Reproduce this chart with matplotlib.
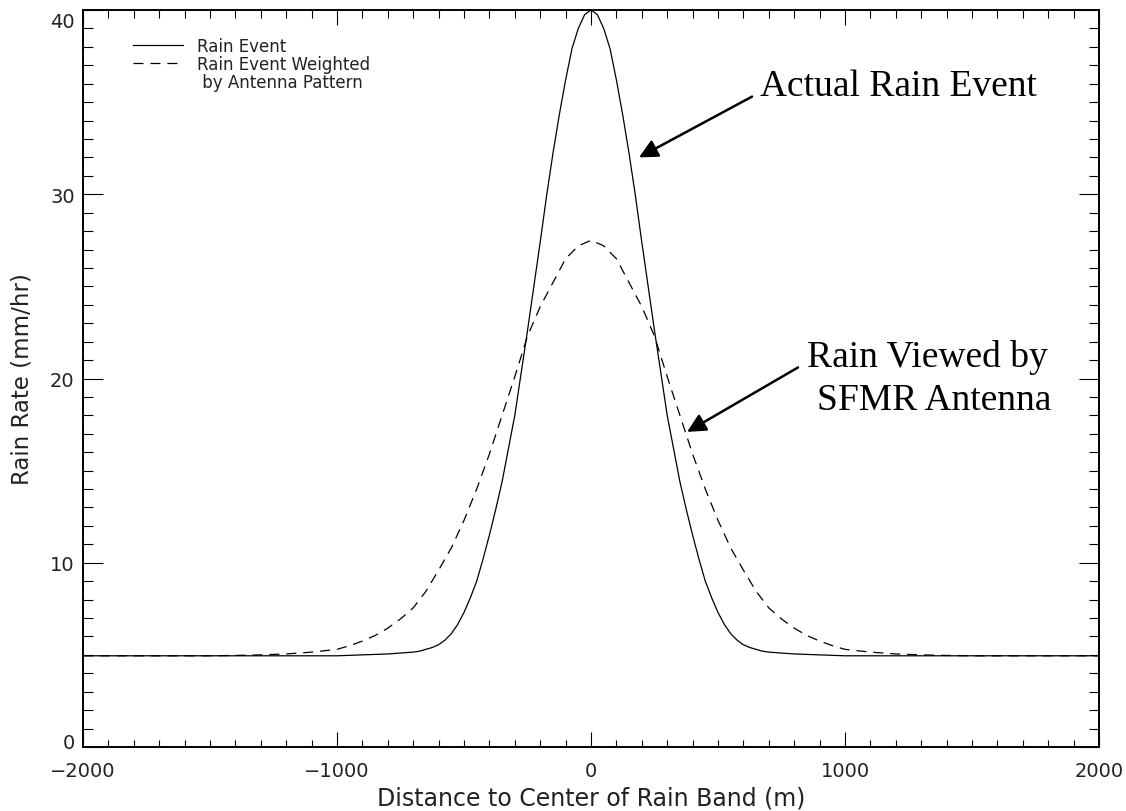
import matplotlib
matplotlib.use("Agg")
import matplotlib.pyplot as plt
import matplotlib.transforms as mtransforms
from matplotlib.lines import Line2D
from matplotlib.ticker import MultipleLocator

# Rain event profile (solid)
rain_x = [-2000, -1500, -1000, -900, -800, -750, -700, -675, -650, -625, -600,
          -575, -550, -525, -500, -475, -450, -425, -400, -375, -350, -325,
          -300, -275, -250, -225, -200, -175, -150, -125, -100, -75, -50, -25,
          0, 25, 50, 75, 100, 125, 150, 175, 200, 225, 250, 275, 300, 325,
          350, 375, 400, 425, 450, 475, 500, 525, 550, 575, 600, 625, 650,
          675, 700, 750, 800, 900, 1000, 1500, 2000]
rain_y = [4.95, 4.95, 4.95, 5.0, 5.05, 5.1, 5.15, 5.2, 5.3, 5.4, 5.55,
          5.8, 6.15, 6.65, 7.3, 8.1, 9.0, 10.2, 11.5, 12.9, 14.4, 16.2,
          18.0, 20.3, 22.6, 25.0, 27.4, 29.9, 32.2, 34.3, 36.2, 37.9, 39.0, 39.75,
          40.0, 39.75, 39.0, 37.9, 36.2, 34.3, 32.2, 29.9, 27.4, 25.0, 22.6, 20.3, 18.0, 16.2,
          14.4, 12.9, 11.5, 10.2, 9.0, 8.1, 7.3, 6.65, 6.15, 5.8, 5.55, 5.4, 5.3,
          5.2, 5.15, 5.1, 5.05, 5.0, 4.95, 4.95, 4.95]

# Rain event weighted by antenna pattern (dashed)
wtd_x = [-2000, -1500, -1400, -1300, -1200, -1100, -1000, -950, -900, -850,
         -800, -750, -700, -650, -600, -550, -500, -450, -400, -350, -300,
         -250, -200, -150, -100, -50, 0, 50, 100, 150, 200, 250, 300, 350,
         400, 450, 500, 550, 600, 650, 700, 750, 800, 850, 900, 950, 1000,
         1100, 1200, 1300, 1400, 1500, 2000]
wtd_y = [4.95, 4.95, 4.97, 5.0, 5.05, 5.15, 5.3, 5.5, 5.75, 6.05,
         6.45, 6.95, 7.55, 8.45, 9.6, 10.8, 12.3, 14.0, 15.9, 18.0, 20.1,
         22.3, 23.9, 25.2, 26.5, 27.2, 27.5, 27.2, 26.5, 25.2, 23.9, 22.3, 20.1, 18.0,
         15.9, 14.0, 12.3, 10.8, 9.6, 8.45, 7.55, 6.95, 6.45, 6.05, 5.75, 5.5, 5.3,
         5.15, 5.05, 5.0, 4.97, 4.95, 4.95]

x_ticks = [-2000, -1000, 0, 1000, 2000]
y_ticks = [0, 10, 20, 30, 40]

plt.rcParams['font.family'] = ['DejaVu Sans']
plt.rcParams['lines.scale_dashes'] = False

fig = plt.figure(figsize=(11.26, 8.12), dpi=100)
ax = fig.add_axes([83 / 1126, 64 / 812, 1016 / 1126, 737 / 812])

dash = (0, (7.2, 5.0))
ax.plot(rain_x, rain_y, color="black", linewidth=0.9)
ax.plot(wtd_x, wtd_y, color="black", linewidth=0.9, linestyle=dash)

ax.set_xlim(-2000, 2000)
ax.set_ylim(0, 40)
ax.set_xticks(x_ticks)
ax.set_yticks(y_ticks)
ax.set_xticklabels([str(v).replace("-", "\u2212") for v in x_ticks])
ax.xaxis.set_minor_locator(MultipleLocator(100))
ax.yaxis.set_minor_locator(MultipleLocator(1))

for sp in ax.spines.values():
    sp.set_linewidth(1.4)

ax.tick_params(axis="x", which="both", direction="in", top=True, bottom=True,
               width=0.8, labelsize=14, pad=10, labelcolor="#222222")
ax.tick_params(axis="x", which="major", length=10.8)
ax.tick_params(axis="x", which="minor", length=5.4)
ax.tick_params(axis="y", which="both", direction="in", left=True, right=True,
               width=0.8, labelsize=14, pad=6, labelcolor="#222222")
ax.tick_params(axis="y", which="major", length=14.6)
ax.tick_params(axis="y", which="minor", length=7.3)

# the end labels on the y axis sit a little inside the axis range
yt = ax.yaxis.get_major_ticks()
for tick, dy in ((yt[0], 5), (yt[-1], -7)):
    lab = tick.label1
    lab.set_transform(lab.get_transform() +
                      mtransforms.ScaledTranslation(0, dy / 72, fig.dpi_scale_trans))

ax.set_xlabel("Distance to Center of Rain Band (m)", fontsize=17, labelpad=4,
              color="#222222")
ax.set_ylabel("Rain Rate (mm/hr)", fontsize=16.5, labelpad=12, color="#222222")

handles = [
    Line2D([], [], color="black", linewidth=0.9),
    Line2D([], [], color="black", linewidth=0.9, linestyle=dash),
    Line2D([], [], color="none"),
]
labels = ["Rain Event", "Rain Event Weighted", " by Antenna Pattern"]
leg = ax.legend(handles, labels, loc="upper left", bbox_to_anchor=(0.0426, 0.972),
                frameon=False, fontsize=12, handlelength=3.0, handletextpad=0.85,
                labelspacing=0.0, borderaxespad=0)
for t in leg.get_texts():
    t.set_color("#222222")

serif = ["Liberation Serif", "DejaVu Serif"]
arrow = dict(arrowstyle="-|>", color="black", lw=1.8, mutation_scale=28,
             shrinkA=0, shrinkB=0)
ax.annotate("", xy=(189, 32.0), xytext=(634, 35.3), arrowprops=arrow)
ax.annotate("", xy=(378, 17.1), xytext=(815, 20.6), arrowprops=arrow)
ax.text(1209, 35.4, "Actual Rain Event", fontsize=27, family=serif,
        ha="center", va="baseline")
ax.text(1323, 20.67, "Rain Viewed by", fontsize=27, family=serif,
        ha="center", va="baseline")
ax.text(1350, 18.34, "SFMR Antenna", fontsize=27, family=serif,
        ha="center", va="baseline")

fig.savefig("out.png", dpi=100)
